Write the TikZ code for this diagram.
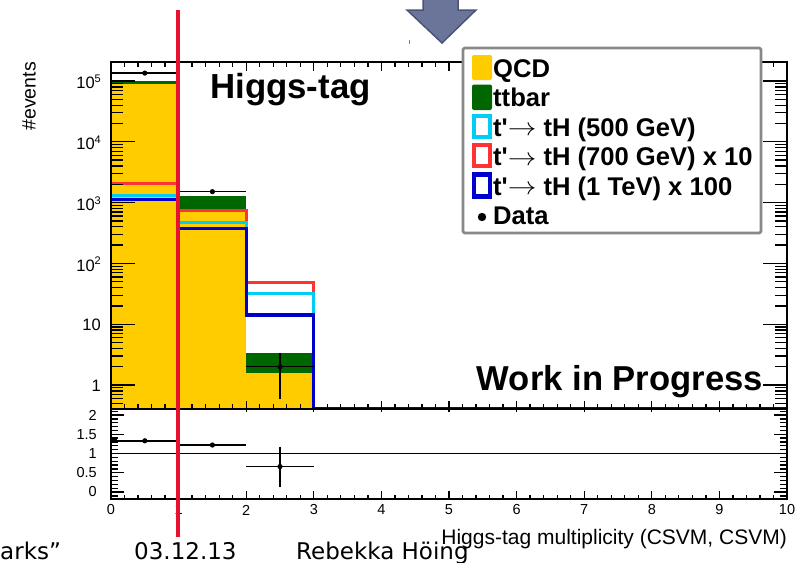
\documentclass[tikz,border=0pt]{standalone}
\usepackage{fontspec}
\newfontfamily\plotfont{Liberation Sans}[Ligatures=TeXOff]
\newfontfamily\slidefont{DejaVu Sans}
\definecolor{qcdyellow}{HTML}{FFCC00}
\definecolor{ttgreen}{HTML}{006600}
\definecolor{sigcyan}{HTML}{00CCF5}
\definecolor{sigred}{HTML}{FF3333}
\definecolor{sigblue}{HTML}{0000CC}
\definecolor{markred}{HTML}{E8112D}
\definecolor{arrowfill}{HTML}{6B7499}
\definecolor{arrowedge}{HTML}{4B5478}
\definecolor{legendgray}{HTML}{888888}
\newcommand\decade[1]{10\raisebox{6.5pt}{\fontsize{11}{11}\selectfont #1}}
\newcommand\legarrow{\raisebox{0.5pt}{\scalebox{1.15}[1]{$\rightarrow$}}}
\begin{document}
\begin{tikzpicture}[x=1pt,y=-1pt,
  declare function={X(\a)=111+67.6*\a; LY(\l)=81-60.8*(\l-5); RY(\r)=492-38.5*\r;},
  frameline/.style={line width=1.6pt,black},
  tickline/.style={line width=1.3pt,black},
  histline/.style={line width=3.2pt,line join=miter,line cap=butt},
  errline/.style={line width=1.4pt,black},
  ylab/.style={anchor=east,inner sep=0pt,font=\plotfont\fontsize{16.5}{18}\selectfont},
  xlab/.style={anchor=center,inner sep=0pt,font=\plotfont\fontsize{14.5}{16}\selectfont},
  rlab/.style={anchor=east,inner sep=0pt,font=\plotfont\fontsize{14.5}{16}\selectfont},
  legtext/.style={anchor=base west,inner sep=0pt,font=\plotfont\bfseries\fontsize{25.6}{27}\selectfont},
  fullswatch/.style={rounded corners=2pt},
  openswatch/.style={line width=4.5pt,fill=white},
  slidetext/.style={anchor=base west,inner sep=0pt,font=\slidefont\fontsize{23}{26}\selectfont},
]
\useasboundingbox (0,0) rectangle (800,562);
\fill[white] (0,0) rectangle (800,562);

% ---- stacked backgrounds: QCD (yellow) and ttbar (green) ----
\fill[qcdyellow] ({X(0)},{LY(4.95)}) rectangle ({X(1)},409);
\fill[ttgreen]   ({X(0)},{LY(5.00)}) rectangle ({X(1)},{LY(4.95)});
\fill[qcdyellow] ({X(1)},{LY(2.90)}) rectangle ({X(2)},409);
\fill[ttgreen]   ({X(1)},{LY(3.11)}) rectangle ({X(2)},{LY(2.90)});
\fill[qcdyellow] ({X(2)},{LY(0.20)}) rectangle ({X(3)},409);
\fill[ttgreen]   ({X(2)},{LY(0.53)}) rectangle ({X(3)},{LY(0.20)});

% ---- signal histograms (clipped to the frame) ----
\begin{scope}
\clip (111,62) rectangle (787,409);
\draw[histline,sigred] ({X(0)},{LY(3.32)}) -| ({X(1)},{LY(2.87)}) -| ({X(2)},{LY(1.69)}) -| ({X(3)},409) -- ({X(10)},409);
\draw[histline,sigcyan] ({X(0)},{LY(3.12)}) -| ({X(1)},{LY(2.67)}) -| ({X(2)},{LY(1.51)}) -| ({X(3)},409);
\draw[histline,sigblue] ({X(0)},{LY(3.05)}) -| ({X(1)},{LY(2.57)}) -| ({X(2)},{LY(1.15)}) -| ({X(3)},409) -- ({X(10)},409);
\end{scope}

% ---- data points ----
\draw[errline] ({X(0)},{LY(5.13)}) -- ({X(1)},{LY(5.13)});
\fill ({X(0.5)},{LY(5.13)}) circle (2.6);
\draw[errline] ({X(1)},{LY(3.18)}) -- ({X(2)},{LY(3.18)});
\fill ({X(1.5)},{LY(3.18)}) circle (2.6);
\draw[errline] ({X(2)},{LY(0.301)}) -- ({X(3)},{LY(0.301)});
\draw[errline] ({X(2.5)},{LY(0.526)}) -- ({X(2.5)},{LY(-0.23)});
\fill ({X(2.5)},{LY(0.301)}) circle (2.6);

% ---- upper panel frame and log ticks ----
\draw[frameline] (111,62) rectangle (787,409);
\foreach \k in {-1,0,...,5}{
  \foreach \m in {1,...,9}{
    \pgfmathsetmacro\yy{81-60.8*(\k+log10(\m)-5)}
    \pgfmathtruncatemacro\ok{((\yy>63)&&(\yy<408)) ? 1 : 0}
    \pgfmathsetmacro\len{(\m==1) ? 24 : 12}
    \ifnum\ok=1
      \draw[tickline] (111,\yy) -- ++(\len,0);
      \draw[tickline] (787,\yy) -- ++(-\len,0);
    \fi
  }
}
\foreach \i in {0,...,50}{
  \pgfmathsetmacro\xx{111+67.6*\i/5}
  \pgfmathtruncatemacro\mj{(mod(\i,5)==0) ? 1 : 0}
  \ifnum\mj=1
    \draw[tickline] (\xx,62) -- ++(0,9);
    \draw[tickline] (\xx,412) -- (\xx,401);
    \draw[tickline] (\xx,499) -- ++(0,-8);
  \else
    \draw[tickline] (\xx,62) -- ++(0,5);
    \draw[tickline] (\xx,409) -- ++(0,-5);
    \draw[tickline] (\xx,499) -- ++(0,-4);
  \fi
}

% ---- y axis labels (upper panel) ----
\node[ylab] (y5) at (101,{LY(5)+1}) {\decade{5}};
\node[ylab] (y4) at (101,{LY(4)+1}) {\decade{4}};
\node[ylab] (y3) at (101,{LY(3)+1}) {\decade{3}};
\node[ylab] (y2) at (101,{LY(2)+1}) {\decade{2}};
\node[ylab] (y1) at (101,{LY(1)+1}) {10};
\node[ylab] (y0) at (101,{LY(0)+1}) {1};
\node[anchor=east,inner sep=0pt,rotate=90,font=\plotfont\fontsize{19.5}{22}\selectfont] (ytitle) at (29,62) {\#events};

% ---- ratio panel ----
\draw[frameline] (111,409) rectangle (787,499);
\draw[line width=1.3pt] (111,{RY(1)}) -- (787,{RY(1)});
\foreach \i in {-1,...,21}{
  \pgfmathsetmacro\yy{492-3.85*\i}
  \pgfmathsetmacro\len{(mod(\i,5)==0) ? 13 : 7}
  \draw[tickline] (111,\yy) -- ++(\len,0);
  \draw[tickline] (787,\yy) -- ++(-\len,0);
}
\fill (112,438) rectangle (117,443);
\draw[errline] ({X(0)},{RY(1.33)}) -- ({X(1)},{RY(1.33)});
\fill ({X(0.5)},{RY(1.33)}) circle (2.6);
\draw[errline] ({X(1)},{RY(1.22)}) -- ({X(2)},{RY(1.22)});
\fill ({X(1.5)},{RY(1.22)}) circle (2.6);
\draw[errline] ({X(2)},{RY(0.66)}) -- ({X(3)},{RY(0.66)});
\draw[errline] ({X(2.5)},{RY(1.18)}) -- ({X(2.5)},{RY(0.13)});
\fill ({X(2.5)},{RY(0.66)}) circle (2.6);
\node[rlab] (r20) at (97,{RY(2)})   {2};
\node[rlab] (r15) at (97,{RY(1.5)}) {1.5};
\node[rlab] (r10) at (97,{RY(1)})   {1};
\node[rlab] (r05) at (97,{RY(0.5)}) {0.5};
\node[rlab] (r00) at (97,{RY(0)})   {0};
\foreach \i in {0,...,10}{
  \node[xlab] (x\i) at ({X(\i)},510) {\i};
}
\node[anchor=base east,inner sep=0pt,font=\plotfont\fontsize{21}{23}\selectfont] (xtitle) at (787,544) {Higgs-tag multiplicity (CSVM, CSVM)};

% ---- plot captions ----
\node[anchor=base west,inner sep=0pt,font=\plotfont\bfseries\fontsize{34.8}{37}\selectfont] (tag) at (210,98) {Higgs-tag};
\node[anchor=base east,inner sep=0pt,font=\plotfont\bfseries\fontsize{34.6}{37}\selectfont] (wip) at (763,390) {Work in Progress};

% ---- legend ----
\draw[line width=2.6pt,legendgray,fill=white,rounded corners=1.5pt] (463,48) rectangle (761,233);
\fill[qcdyellow,fullswatch] (472,55) rectangle (492,80);
\fill[ttgreen,fullswatch] (472,84.5) rectangle (492,110);
\draw[openswatch,draw=sigcyan] (474.2,116.2) rectangle (489.8,136.8);
\draw[openswatch,draw=sigred] (474.2,145.2) rectangle (489.8,165.8);
\draw[openswatch,draw=sigblue] (474.2,174.7) rectangle (489.8,196.3);
\fill (482,217) circle (4.2);
\node[legtext] (lqcd) at (493,77) {QCD};
\node[legtext] (ltt) at (493,106.5) {ttbar};
\node[legtext] (l500) at (493,136) {t'\legarrow\ tH (500 GeV)};
\node[legtext] (l700) at (493,165.5) {t'\legarrow\ tH (700 GeV) x 10};
\node[legtext] (l1000) at (493,195) {t'\legarrow\ tH (1 TeV) x 100};
\node[legtext] (ldata) at (493,224.5) {Data};

% ---- slide overlay: marker line, arrow, footer ----
\draw[markred,line width=4pt] (178,10) -- (178,537);
\filldraw[fill=arrowfill,draw=arrowedge,line width=1.5pt,line join=miter]
  (423,-3) -- (458,-3) -- (458,10) -- (476,10) -- (442,43) -- (407,10) -- (423,10) -- cycle;
\draw[gray,line width=1pt] (409,40) -- (409,44);
\node[slidetext] (foot1) at (0,559) {arks”};
\node[slidetext] (foot2) at (134,559) {03.12.13};
\node[slidetext] (foot3) at (296,559) {Rebekka Höing};
\end{tikzpicture}
\end{document}
